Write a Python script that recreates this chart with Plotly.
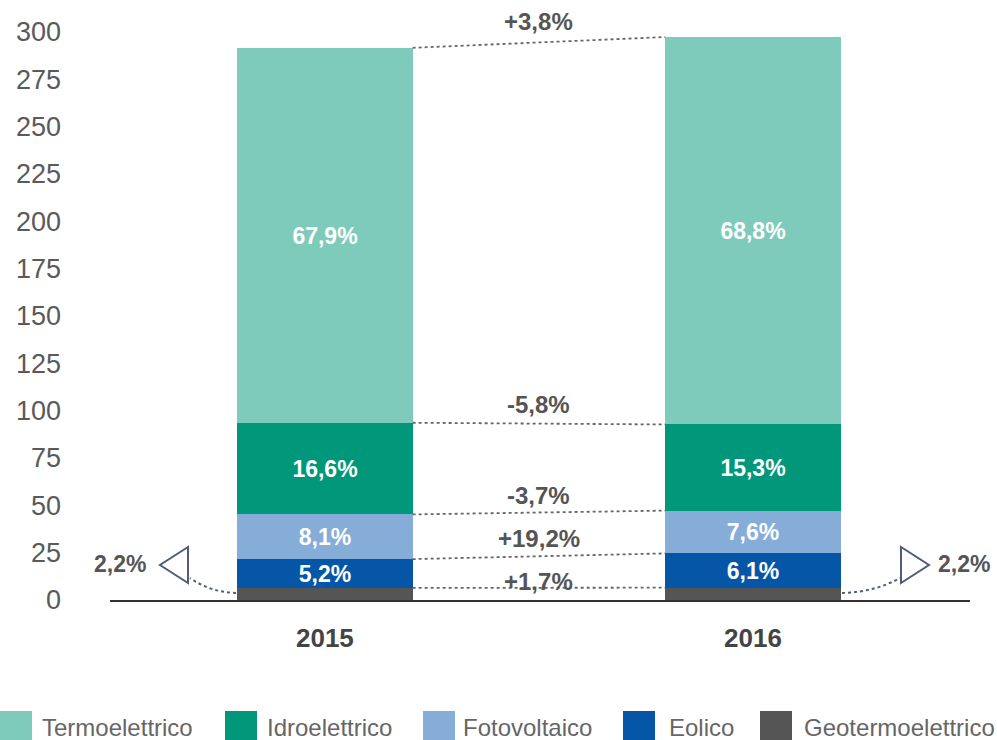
import plotly.graph_objects as go

# ---------------- data ----------------
years = ["2015", "2016"]
sources = ["Termoelettrico", "Idroelettrico", "Fotovoltaico", "Eolico", "Geotermoelettrico"]
termo = [198.0, 204.6]
idro = [48.4, 45.5]
foto = [23.6, 22.6]
eolico = [15.2, 18.1]
geo = [6.4, 6.5]
shares_2015 = ["67,9%", "16,6%", "8,1%", "5,2%", "2,2%"]
shares_2016 = ["68,8%", "15,3%", "7,6%", "6,1%", "2,2%"]
changes = ["+3,8%", "-5,8%", "-3,7%", "+19,2%", "+1,7%"]
y_ticks = [0, 25, 50, 75, 100, 125, 150, 175, 200, 225, 250, 275, 300]

series = [termo, idro, foto, eolico, geo]
colors = ["#7fcbbb", "#00977a", "#86acd8", "#0656a8", "#555555"]

# ---------------- layout constants ----------------
W, H = 997, 740
ML, MR, MT, MB = 110, 27, 13, 140
PW, PH = W - ML - MR, H - MT - MB
XR = [-0.502, 1.507]
YR = [0, 310]
BW = 0.41
xpos = [0, 1]
FONT = "Liberation Sans, Arial, sans-serif"
GRAY = "#555555"


def px(xp):
    return (xp - ML) / PW


def py(yp):
    return (H - MB - yp) / PH


def ppath(cmds):
    out = []
    for c in cmds:
        if isinstance(c, str):
            out.append(c)
        else:
            out.append(f"{px(c[0]):.5f},{py(c[1]):.5f}")
    return " ".join(out)


fig = go.Figure()

# stack bottom to top
order = list(range(len(sources)))[::-1]
for i in order:
    txt = [shares_2015[i], shares_2016[i]] if i < 4 else ["", ""]
    fig.add_trace(go.Bar(
        x=xpos, y=series[i], name=sources[i], width=BW,
        marker=dict(color=colors[i], line=dict(width=0)),
        text=txt, textposition="inside", insidetextanchor="middle",
        constraintext="none", textangle=0,
        textfont=dict(family=FONT, size=23, color="white", weight="bold"),
        hoverinfo="skip", showlegend=False,
    ))

# cumulative tops per source
cum = {}
for yi in range(2):
    s = 0
    for i in order:
        s += series[i][yi]
        cum[(i, yi)] = s

shapes = []
annotations = []
yshifts = [21, 19, 17, 18, 6]
for i in range(len(sources)):
    y0, y1 = cum[(i, 0)], cum[(i, 1)]
    shapes.append(dict(type="line", xref="x", yref="y",
                       x0=xpos[0] + BW / 2, x1=xpos[1] - BW / 2, y0=y0, y1=y1,
                       line=dict(color="#666666", width=1.8, dash="dot")))
    annotations.append(dict(x=0.5, y=(y0 + y1) / 2, xref="x", yref="y",
                            text=changes[i], showarrow=False, yshift=yshifts[i],
                            xanchor="center", yanchor="middle",
                            font=dict(family=FONT, size=24, color=GRAY, weight="bold")))

# geothermal call-outs (triangles + dotted curves)
tri_col = "#4f5d7a"
shapes.append(dict(type="path", xref="paper", yref="paper",
                   path=ppath(["M", (188, 547), "L", (188, 583), "L", (160, 565), "Z"]),
                   line=dict(color=tri_col, width=2), fillcolor="rgba(0,0,0,0)"))
shapes.append(dict(type="path", xref="paper", yref="paper",
                   path=ppath(["M", (901, 547), "L", (901, 583), "L", (929, 565), "Z"]),
                   line=dict(color=tri_col, width=2), fillcolor="rgba(0,0,0,0)"))
shapes.append(dict(type="path", xref="paper", yref="paper",
                   path=ppath(["M", (236, 593), "Q", (210, 592), (190, 578)]),
                   line=dict(color=tri_col, width=2, dash="dot")))
shapes.append(dict(type="path", xref="paper", yref="paper",
                   path=ppath(["M", (842, 593), "Q", (875, 592), (900, 578)]),
                   line=dict(color=tri_col, width=2, dash="dot")))
annotations.append(dict(x=px(120), y=py(564), xref="paper", yref="paper",
                        text=shares_2015[4], showarrow=False,
                        xanchor="center", yanchor="middle",
                        font=dict(family=FONT, size=23, color=GRAY, weight="bold")))
annotations.append(dict(x=px(964), y=py(564), xref="paper", yref="paper",
                        text=shares_2016[4], showarrow=False,
                        xanchor="center", yanchor="middle",
                        font=dict(family=FONT, size=23, color=GRAY, weight="bold")))

# manual legend (large square keys)
leg_sq_x = [0, 225, 423, 623, 760]
leg_tx_x = [40, 265, 461, 667, 802]
for i in range(len(sources)):
    shapes.append(dict(type="rect", xref="paper", yref="paper",
                       x0=px(leg_sq_x[i]), x1=px(leg_sq_x[i] + 32),
                       y0=py(711), y1=py(745),
                       fillcolor=colors[i], line=dict(width=0)))
    annotations.append(dict(x=px(leg_tx_x[i]), y=py(727), xref="paper", yref="paper",
                            text=sources[i], showarrow=False,
                            xanchor="left", yanchor="middle",
                            font=dict(family=FONT, size=24, color="#666666")))

fig.update_layout(
    width=W, height=H,
    margin=dict(l=ML, r=MR, t=MT, b=MB, autoexpand=False),
    paper_bgcolor="white", plot_bgcolor="white",
    barmode="stack", bargap=0,
    shapes=shapes, annotations=annotations,
    xaxis=dict(range=XR, tickmode="array", tickvals=xpos, ticktext=years,
               showgrid=False, zeroline=False, showline=True,
               linecolor="#333333", linewidth=2, ticks="",
               ticklabelstandoff=14,
               tickfont=dict(family=FONT, size=26, color="#444444", weight="bold")),
    yaxis=dict(range=YR, tickmode="array", tickvals=y_ticks,
               showgrid=False, zeroline=False, showline=False, ticks="",
               ticklabelstandoff=48,
               tickfont=dict(family=FONT, size=27, color="#5a5a5a")),
    showlegend=False,
)

fig.write_html(
    "out.html",
    config={"displayModeBar": False},
    post_script="document.body.style.margin='0';document.body.style.overflow='hidden';",
)
